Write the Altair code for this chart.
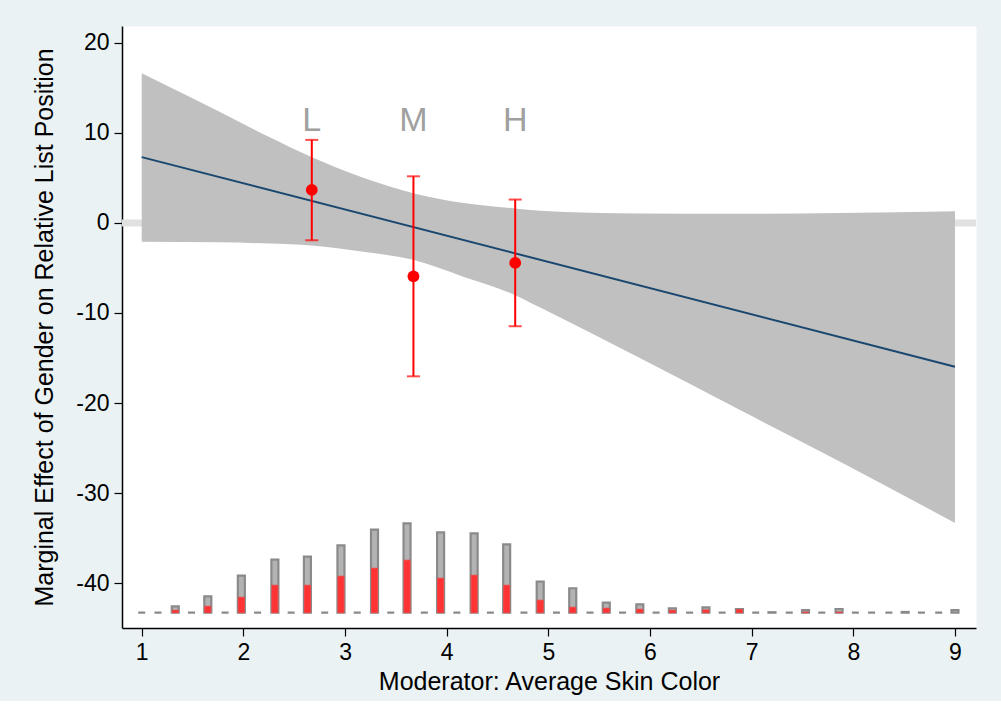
import altair as alt
import pandas as pd

# ---- data ----
line_x = [1.0, 9.0]
line_y = [7.3, -15.96]

band_x = [1.0, 1.77, 2.26, 2.67, 3.18, 3.67, 4.17, 4.67, 4.92, 5.9, 6.89, 7.87, 9.0]
band_lo = [-2.1, -2.15, -2.3, -2.5, -3.2, -4.1, -6.0, -8.0, -9.4, -15.0, -20.8, -26.5, -33.3]
band_hi = [16.6, 12.3, 9.5, 7.3, 5.0, 3.3, 2.2, 1.6, 1.35, 1.05, 1.0, 1.1, 1.3]

pt_label = ["L", "M", "H"]
pt_x = [2.673, 3.673, 4.674]
pt_y = [3.66, -5.93, -4.44]
pt_lo = [-1.93, -17.03, -11.47]
pt_hi = [9.21, 5.17, 2.59]
label_y = [10.17, 10.17, 10.17]

hist_x = [1.00, 1.16, 1.33, 1.49, 1.65, 1.82, 1.98, 2.14, 2.31, 2.47,
          2.63, 2.80, 2.96, 3.12, 3.29, 3.45, 3.61, 3.78, 3.94, 4.10,
          4.27, 4.43, 4.59, 4.76, 4.92, 5.08, 5.24, 5.41, 5.57, 5.73,
          5.90, 6.06, 6.22, 6.39, 6.55, 6.71, 6.88, 7.04, 7.20, 7.37,
          7.53, 7.69, 7.86, 8.02, 8.18, 8.35, 8.51, 8.67, 8.84, 9.00]
hist_total = [0, 0, 0.71, 0, 1.82, 0, 4.11, 0, 5.88, 0,
              6.22, 0, 7.48, 0, 9.21, 0, 9.92, 0, 8.92, 0,
              8.81, 0, 7.59, 0, 3.44, 0, 2.71, 0, 1.11, 0,
              0.93, 0, 0.49, 0, 0.60, 0, 0.41, 0, 0.05, 0,
              0.30, 0, 0.41, 0, 0, 0, 0.08, 0, 0, 0.30]
hist_red = [0, 0, 0.27, 0, 0.71, 0, 1.71, 0, 3.04, 0,
            3.04, 0, 4.04, 0, 4.93, 0, 5.82, 0, 3.82, 0,
            4.15, 0, 3.04, 0, 1.38, 0, 0.60, 0, 0.49, 0,
            0.38, 0, 0.27, 0, 0.30, 0, 0.33, 0, 0, 0,
            0.06, 0, 0.06, 0, 0, 0, 0, 0, 0, 0]
hist_base = -43.26

y_ticks = [-40, -30, -20, -10, 0, 10, 20]
x_ticks = [1, 2, 3, 4, 5, 6, 7, 8, 9]
x_title = "Moderator: Average Skin Color"
y_title = "Marginal Effect of Gender on Relative List Position"

# ---- tables ----
line_df = pd.DataFrame({"x": line_x, "y": line_y})
band_df = pd.DataFrame({"x": band_x, "lo": band_lo, "hi": band_hi})
pt_df = pd.DataFrame({"label": pt_label, "x": pt_x, "y": pt_y, "lo": pt_lo,
                      "hi": pt_hi, "ly": label_y})
hist_df = pd.DataFrame({"x": hist_x, "tot": hist_total, "red": hist_red})
hist_df["base"] = hist_base
hist_df["top"] = hist_base + hist_df["tot"]
hist_df["rtop"] = hist_base + hist_df["red"]
zero_df = pd.DataFrame({"y": [0]})

xs = alt.Scale(domain=[0.806, 9.207], nice=False, zero=False, padding=0)
ys = alt.Scale(domain=[-44.96, 21.85], nice=False, zero=False, padding=0)
x_axis = alt.Axis(values=x_ticks, title=x_title, labelExpr="'' + datum.value")
y_axis = alt.Axis(values=y_ticks, title=y_title, labelExpr="'' + datum.value")


def X(f="x"):
    return alt.X(f, type="quantitative", scale=xs, axis=x_axis)


def Y(f):
    return alt.Y(f, type="quantitative", scale=ys, axis=y_axis)


zero_rule = alt.Chart(zero_df).mark_rule(color="#e1e1e1", strokeWidth=7).encode(y=Y("y"))

band = alt.Chart(band_df).mark_area(color="#c0c0c0", opacity=1, interpolate="monotone").encode(
    x=X(), y=Y("lo"), y2="hi")

reg = alt.Chart(line_df).mark_line(color="#1a476f", strokeWidth=2).encode(x=X(), y=Y("y"))

hist_gray = alt.Chart(hist_df).mark_bar(size=7, fill="#b3b3b3", stroke="#8a8a8a",
                                        strokeWidth=2.2).encode(x=X(), y=Y("top"), y2="base")
hist_r = alt.Chart(hist_df).transform_filter("datum.red > 0").mark_bar(
    size=6, fill="#ff3333", stroke="#f04545", strokeWidth=1).encode(x=X(), y=Y("rtop"), y2="base")

err = alt.Chart(pt_df).mark_rule(color="#ff0000", strokeWidth=2).encode(x=X(), y=Y("lo"), y2="hi")
cap_lo = alt.Chart(pt_df).mark_tick(color="#ff0000", orient="horizontal", size=13,
                                    thickness=2).encode(x=X(), y=Y("lo"))
cap_hi = alt.Chart(pt_df).mark_tick(color="#ff0000", orient="horizontal", size=13,
                                    thickness=2).encode(x=X(), y=Y("hi"))
pts = alt.Chart(pt_df).mark_circle(color="#ff0000", opacity=1, size=140).encode(x=X(), y=Y("y"))
labels = alt.Chart(pt_df).mark_text(color="#a0a0a0", fontSize=34, font="Liberation Sans",
                                    baseline="alphabetic", align="center").encode(
    x=X(), y=Y("ly"), text="label")

chart = alt.layer(zero_rule, band, reg, hist_gray, hist_r, err, cap_lo, cap_hi, pts, labels).properties(
    width=854, height=602,
    background="#eaf2f3",
    padding={"left": 122, "top": 26, "right": 25, "bottom": 73},
    autosize=alt.AutoSizeParams(type="none"),
).configure_view(fill="white", strokeOpacity=0).configure_axis(
    grid=False,
    labelFont="Liberation Sans", titleFont="Liberation Sans",
    labelFontSize=23, titleFontSize=25, titleFontWeight="normal",
    labelColor="black", titleColor="black",
    domainColor="black", domainWidth=1.5, tickColor="black", tickWidth=1.2, tickSize=8,
).configure_axisY(labelPadding=5, titlePadding=18).configure_axisX(labelPadding=5, titlePadding=5)

chart.save("out.html", embed_options={"renderer": "svg", "actions": False})
